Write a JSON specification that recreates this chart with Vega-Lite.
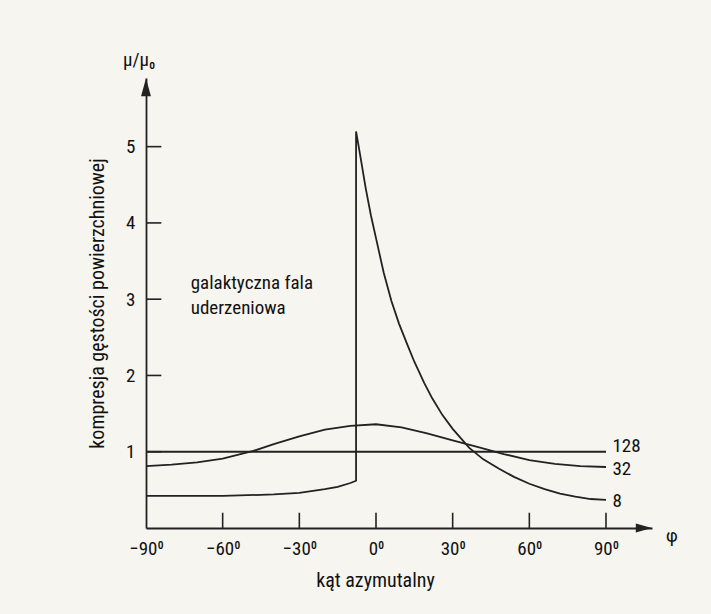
{
  "$schema": "https://vega.github.io/schema/vega-lite/v6.json",
  "autosize": {"type": "none"},
  "padding": {"left": 146, "top": 78, "right": 59, "bottom": 86},
  "width": 506,
  "height": 450,
  "background": "#f6f5ef",
  "config": {
    "view": {"stroke": null},
    "font": "Roboto Condensed, Roboto",
    "axis": {
      "grid": false,
      "domainColor": "#222222",
      "domainWidth": 1.8,
      "ticks": false,
      "labelFont": "Roboto Condensed, Roboto",
      "labelFontSize": 19,
      "labelFontWeight": "normal",
      "labelColor": "#111111",
      "labelPadding": 11,
      "titleFont": "Roboto Condensed, Roboto",
      "titleFontSize": 20,
      "titleFontWeight": "normal",
      "titleColor": "#111111"
    },
    "text": {"font": "Roboto Condensed, Roboto", "fontWeight": "normal"}
  },
  "datasets": {
    "curves": [
      {"series": "128", "i": 1, "phi": -90, "mu": 1.0},
      {"series": "128", "i": 2, "phi": 90, "mu": 1.0},
      {"series": "32", "i": 1, "phi": -90, "mu": 0.81},
      {"series": "32", "i": 2, "phi": -80, "mu": 0.83},
      {"series": "32", "i": 3, "phi": -70, "mu": 0.86},
      {"series": "32", "i": 4, "phi": -60, "mu": 0.91},
      {"series": "32", "i": 5, "phi": -48, "mu": 1.01},
      {"series": "32", "i": 6, "phi": -40, "mu": 1.1},
      {"series": "32", "i": 7, "phi": -30, "mu": 1.2},
      {"series": "32", "i": 8, "phi": -20, "mu": 1.29},
      {"series": "32", "i": 9, "phi": -10, "mu": 1.34},
      {"series": "32", "i": 10, "phi": 0, "mu": 1.36},
      {"series": "32", "i": 11, "phi": 10, "mu": 1.32},
      {"series": "32", "i": 12, "phi": 20, "mu": 1.24},
      {"series": "32", "i": 13, "phi": 30, "mu": 1.15},
      {"series": "32", "i": 14, "phi": 40, "mu": 1.06},
      {"series": "32", "i": 15, "phi": 50, "mu": 0.97},
      {"series": "32", "i": 16, "phi": 60, "mu": 0.89},
      {"series": "32", "i": 17, "phi": 70, "mu": 0.84},
      {"series": "32", "i": 18, "phi": 80, "mu": 0.81},
      {"series": "32", "i": 19, "phi": 90, "mu": 0.8},
      {"series": "8", "i": 1, "phi": -90, "mu": 0.42},
      {"series": "8", "i": 2, "phi": -60, "mu": 0.42},
      {"series": "8", "i": 3, "phi": -40, "mu": 0.44},
      {"series": "8", "i": 4, "phi": -30, "mu": 0.46},
      {"series": "8", "i": 5, "phi": -20, "mu": 0.51},
      {"series": "8", "i": 6, "phi": -15, "mu": 0.54},
      {"series": "8", "i": 7, "phi": -10, "mu": 0.59},
      {"series": "8", "i": 8, "phi": -7.8, "mu": 0.62},
      {"series": "8", "i": 9, "phi": -7.8, "mu": 5.2},
      {"series": "8", "i": 10, "phi": -6, "mu": 4.85},
      {"series": "8", "i": 11, "phi": -4, "mu": 4.45},
      {"series": "8", "i": 12, "phi": -2, "mu": 4.1},
      {"series": "8", "i": 13, "phi": 0, "mu": 3.8},
      {"series": "8", "i": 14, "phi": 3, "mu": 3.35},
      {"series": "8", "i": 15, "phi": 6, "mu": 2.98},
      {"series": "8", "i": 16, "phi": 9, "mu": 2.68},
      {"series": "8", "i": 17, "phi": 12.3, "mu": 2.4},
      {"series": "8", "i": 18, "phi": 15, "mu": 2.18},
      {"series": "8", "i": 19, "phi": 18.9, "mu": 1.9},
      {"series": "8", "i": 20, "phi": 22, "mu": 1.7},
      {"series": "8", "i": 21, "phi": 26, "mu": 1.48},
      {"series": "8", "i": 22, "phi": 30, "mu": 1.3},
      {"series": "8", "i": 23, "phi": 36.5, "mu": 1.05},
      {"series": "8", "i": 24, "phi": 42, "mu": 0.9},
      {"series": "8", "i": 25, "phi": 48, "mu": 0.78},
      {"series": "8", "i": 26, "phi": 54, "mu": 0.67},
      {"series": "8", "i": 27, "phi": 60, "mu": 0.58},
      {"series": "8", "i": 28, "phi": 66, "mu": 0.51},
      {"series": "8", "i": 29, "phi": 72, "mu": 0.45},
      {"series": "8", "i": 30, "phi": 78, "mu": 0.41},
      {"series": "8", "i": 31, "phi": 84, "mu": 0.38},
      {"series": "8", "i": 32, "phi": 90, "mu": 0.37}
    ],
    "xticks": [
      {"phi": -60, "mu": 0, "mu2": 0.2},
      {"phi": -30, "mu": 0, "mu2": 0.2},
      {"phi": 0, "mu": 0, "mu2": 0.2},
      {"phi": 30, "mu": 0, "mu2": 0.2},
      {"phi": 60, "mu": 0, "mu2": 0.2},
      {"phi": 90, "mu": 0, "mu2": 0.2}
    ],
    "yticks": [
      {"phi": -90, "phi2": -84, "mu": 1},
      {"phi": -90, "phi2": -84, "mu": 2},
      {"phi": -90, "phi2": -84, "mu": 3},
      {"phi": -90, "phi2": -84, "mu": 4},
      {"phi": -90, "phi2": -84, "mu": 5}
    ],
    "arrowUp": [{"phi": -90, "mu": 5.78}],
    "arrowRight": [{"phi": 104.8, "mu": 0}],
    "labelsLeft": [
      {"phi": 92.5, "mu": 1.08, "text": "128"},
      {"phi": 92.5, "mu": 0.78, "text": "32"},
      {"phi": 92.5, "mu": 0.36, "text": "8"},
      {"phi": 113.5, "mu": -0.1, "text": "φ"},
      {"phi": -72.5, "mu": 3.21, "text": "galaktyczna fala"},
      {"phi": -72.5, "mu": 2.88, "text": "uderzeniowa"}
    ],
    "labelsCenter": [
      {"phi": -92.7, "mu": 6.14, "text": "μ/μ₀"}
    ]
  },
  "layer": [
    {
      "data": {"name": "curves"},
      "mark": {"type": "line", "color": "#222222", "strokeWidth": 1.8, "clip": false},
      "encoding": {
        "x": {
          "field": "phi", "type": "quantitative",
          "scale": {"domain": [-90, 108], "nice": false, "zero": false},
          "axis": {
            "values": [-90, -60, -30, 0, 30, 60, 90],
            "labelExpr": "replace(format(datum.value, 'd'), '-', '–') + '⁰'",
            "labelFlush": false,
            "labelOverlap": false,
            "title": "kąt azymutalny",
            "titleX": 229,
            "titleY": 52,
            "titleBaseline": "middle",
            "titleAlign": "center"
          }
        },
        "y": {
          "field": "mu", "type": "quantitative",
          "scale": {"domain": [0, 5.9], "nice": false},
          "axis": {
            "values": [1, 2, 3, 4, 5],
            "format": "d",
            "title": "kompresja gęstości powierzchniowej",
            "titleX": -49,
            "titleY": 225,
            "titleAngle": -90,
            "titleBaseline": "middle",
            "titleAlign": "center",
            "labelOverlap": false
          }
        },
        "detail": {"field": "series"},
        "order": {"field": "i", "type": "quantitative"}
      }
    },
    {
      "data": {"name": "xticks"},
      "mark": {"type": "rule", "color": "#222222", "strokeWidth": 1.6},
      "encoding": {
        "x": {"field": "phi", "type": "quantitative"},
        "y": {"field": "mu", "type": "quantitative"},
        "y2": {"field": "mu2"}
      }
    },
    {
      "data": {"name": "yticks"},
      "mark": {"type": "rule", "color": "#222222", "strokeWidth": 1.6},
      "encoding": {
        "x": {"field": "phi", "type": "quantitative"},
        "x2": {"field": "phi2"},
        "y": {"field": "mu", "type": "quantitative"}
      }
    },
    {
      "data": {"name": "arrowUp"},
      "mark": {"type": "point", "shape": "M0,-1L0.55,1L-0.55,1Z", "filled": true, "color": "#222222", "size": 324, "opacity": 1, "clip": false},
      "encoding": {
        "x": {"field": "phi", "type": "quantitative"},
        "y": {"field": "mu", "type": "quantitative"}
      }
    },
    {
      "data": {"name": "arrowRight"},
      "mark": {"type": "point", "shape": "M1,0L-1,0.55L-1,-0.55Z", "filled": true, "color": "#222222", "size": 256, "opacity": 1, "clip": false},
      "encoding": {
        "x": {"field": "phi", "type": "quantitative"},
        "y": {"field": "mu", "type": "quantitative"}
      }
    },
    {
      "data": {"name": "labelsLeft"},
      "mark": {"type": "text", "align": "left", "baseline": "middle", "fontSize": 19, "color": "#111111", "clip": false},
      "encoding": {
        "x": {"field": "phi", "type": "quantitative"},
        "y": {"field": "mu", "type": "quantitative"},
        "text": {"field": "text"}
      }
    },
    {
      "data": {"name": "labelsCenter"},
      "mark": {"type": "text", "align": "center", "baseline": "middle", "fontSize": 19, "color": "#111111", "clip": false},
      "encoding": {
        "x": {"field": "phi", "type": "quantitative"},
        "y": {"field": "mu", "type": "quantitative"},
        "text": {"field": "text"}
      }
    }
  ]
}
